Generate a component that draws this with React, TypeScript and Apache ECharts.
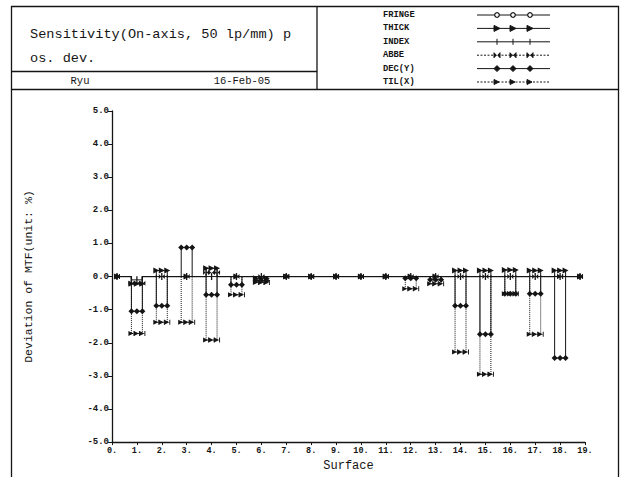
import React, { useEffect, useRef } from "react";
import * as echarts from "echarts";

const SURFACES = [0, 1, 2, 3, 4, 5, 6, 7, 8, 9, 10, 11, 12, 13, 14, 15, 16, 17, 18, 19];
const SERIES_NAMES = ["FRINGE", "THICK", "INDEX", "ABBE", "DEC(Y)", "TIL(X)"];
const FRINGE = [0, -0.15, 0.15, 0, 0.35, 0, 0, 0, 0, 0, 0, 0, 0, 0, 0.15, 0.15, 0.15, 0.15, 0.15, 0];
const THICK = [0, -0.22, 0.18, 0, 0.25, 0, -0.05, 0, 0, 0, 0, 0, 0, 0, 0.18, 0.18, 0.2, 0.18, 0.18, 0];
const INDEX = [0, -0.1, 0, 0, 0, 0, 0, 0, 0, 0, 0, 0, 0, 0, 0, 0, 0, 0, 0, 0];
const ABBE = [0, -0.2, 0, 0, 0.12, 0, 0, 0, 0, 0, 0, 0, 0, 0, 0, 0, 0, 0, 0, 0];
const DEC_Y = [0, -1.05, -0.88, 0.88, -0.55, -0.25, -0.12, 0, 0, 0, 0, 0, -0.05, -0.1, -0.88, -1.74, -0.52, -0.52, -2.46, 0];
const TIL_X = [0, -1.72, -1.38, -1.38, -1.92, -0.55, -0.18, 0, 0, 0, 0, 0, -0.37, -0.22, -2.28, -2.95, -0.52, -1.74, 0, 0];
const SERIES_VALUES = [FRINGE, THICK, INDEX, ABBE, DEC_Y, TIL_X];
const Y_MIN = -5;
const Y_MAX = 5;
const X_MIN = 0;
const X_MAX = 19;

const FONT = '"Liberation Mono", "DejaVu Sans Mono", monospace';
const INK = "#151515";
const HALF = 0.22;

const SYMBOLS: any[] = [
  { symbol: "emptyCircle", symbolSize: 5, symbolRotate: 0 },
  { symbol: "triangle", symbolSize: 6, symbolRotate: -90 },
  { symbol: "rect", symbolSize: [1.3, 7], symbolRotate: 0 },
  { symbol: "path://M0,0L4,5L0,10ZM10,0L6,5L10,10Z", symbolSize: [6, 5], symbolRotate: 0 },
  { symbol: "diamond", symbolSize: 6, symbolRotate: 0 },
  { symbol: "path://M0,0L8,5L0,10ZM8,0L9.5,0L9.5,10L8,10Z", symbolSize: [6, 5], symbolRotate: 0 },
];
const LINE_TYPES: any[] = ["solid", "solid", "solid", "dotted", "solid", "dotted"];

function buildData(values: number[]) {
  const out: any[] = [];
  SURFACES.forEach((s, i) => {
    const v = values[i];
    if (v === 0) {
      const x = Math.min(Math.max(s, X_MIN + HALF - 0.02), X_MAX - HALF + 0.02);
      out.push([x, 0]);
    } else {
      out.push({ value: [s - HALF, 0], symbol: "none" });
      out.push([s - HALF, v]);
      out.push([s, v]);
      out.push([s + HALF, v]);
      out.push({ value: [s + HALF, 0], symbol: "none" });
    }
  });
  return out;
}

function legendGlyph(k: number, cx: number, cy: number): any {
  const st = { fill: INK, stroke: INK, lineWidth: 1 };
  switch (k) {
    case 0:
      return { type: "circle", shape: { cx, cy, r: 2.3 }, style: { fill: "#fff", stroke: INK, lineWidth: 1.2 } };
    case 1:
      return { type: "polygon", shape: { points: [[cx - 3, cy - 3], [cx + 3, cy], [cx - 3, cy + 3]] }, style: st };
    case 2:
      return { type: "line", shape: { x1: cx, y1: cy - 3, x2: cx, y2: cy + 3 }, style: { stroke: INK, lineWidth: 1 } };
    case 3:
      return {
        type: "group",
        children: [
          { type: "polygon", shape: { points: [[cx - 3, cy - 2.5], [cx - 0.8, cy], [cx - 3, cy + 2.5]] }, style: st },
          { type: "polygon", shape: { points: [[cx + 3, cy - 2.5], [cx + 0.8, cy], [cx + 3, cy + 2.5]] }, style: st },
        ],
      };
    case 4:
      return { type: "polygon", shape: { points: [[cx, cy - 3], [cx + 3, cy], [cx, cy + 3], [cx - 3, cy]] }, style: st };
    default:
      return { type: "polygon", shape: { points: [[cx - 3, cy - 2.5], [cx + 2, cy], [cx - 3, cy + 2.5]] }, style: st };
  }
}

export default function App() {
  const ref = useRef<HTMLDivElement>(null);
  useEffect(() => {
    if (!ref.current) return;
    const chart = echarts.init(ref.current, undefined, { renderer: "svg" });

    const frame = { stroke: INK, lineWidth: 1.3 };
    const graphic: any[] = [
      { type: "rect", shape: { x: 11.5, y: 6.5, width: 607, height: 83 }, style: { fill: "none", ...frame } },
      { type: "line", shape: { x1: 317, y1: 6.5, x2: 317, y2: 89.5 }, style: frame },
      { type: "line", shape: { x1: 11.5, y1: 71.5, x2: 317, y2: 71.5 }, style: frame },
      { type: "line", shape: { x1: 11.5, y1: 89.5, x2: 11.5, y2: 477 }, style: frame },
      { type: "line", shape: { x1: 618.5, y1: 89.5, x2: 618.5, y2: 477 }, style: frame },
      {
        type: "text", x: 30, y: 34,
        style: { text: "Sensitivity(On-axis, 50 lp/mm) p", font: `13.6px ${FONT}`, fill: INK, textVerticalAlign: "middle" },
      },
      {
        type: "text", x: 30, y: 58,
        style: { text: "os. dev.", font: `13.6px ${FONT}`, fill: INK, textVerticalAlign: "middle" },
      },
      {
        type: "text", x: 80, y: 81,
        style: { text: "Ryu", font: `10.5px ${FONT}`, fill: INK, textAlign: "center", textVerticalAlign: "middle" },
      },
      {
        type: "text", x: 242, y: 81,
        style: { text: "16-Feb-05", font: `10.5px ${FONT}`, fill: INK, textAlign: "center", textVerticalAlign: "middle" },
      },
    ];
    SERIES_NAMES.forEach((name, k) => {
      const cy = 15 + k * 13.4;
      graphic.push({
        type: "text", x: 383, y: cy,
        style: { text: name, font: `bold 8.8px ${FONT}`, fill: INK, textVerticalAlign: "middle" },
      });
      graphic.push({
        type: "line", shape: { x1: 477, y1: cy, x2: 550, y2: cy },
        style: { stroke: INK, lineWidth: 1, lineDash: LINE_TYPES[k] === "dotted" ? [2, 1.5] : null },
      });
      [497, 513, 530].forEach((cx) => graphic.push(legendGlyph(k, cx, cy)));
    });

    const series = SERIES_NAMES.map((name, k) => ({
      name,
      type: "line",
      data: buildData(SERIES_VALUES[k]),
      symbol: SYMBOLS[k].symbol,
      symbolSize: SYMBOLS[k].symbolSize,
      symbolRotate: SYMBOLS[k].symbolRotate,
      showAllSymbol: true,
      lineStyle: { color: INK, width: 1, type: LINE_TYPES[k] },
      itemStyle: { color: k === 0 ? "#fff" : INK, borderColor: INK, borderWidth: k === 0 ? 1.2 : 0 },
      emphasis: { disabled: true },
      z: 2 + k,
    }));

    chart.setOption({
      animation: false,
      backgroundColor: "#fff",
      textStyle: { fontFamily: FONT },
      grid: { left: 112, right: 36, top: 111, bottom: 32, containLabel: false },
      xAxis: {
        type: "value",
        min: X_MIN,
        max: X_MAX,
        interval: 1,
        name: "Surface",
        nameLocation: "middle",
        nameGap: 14,
        nameTextStyle: { fontFamily: FONT, fontSize: 12, color: INK },
        axisLine: { show: true, onZero: false, lineStyle: { color: INK, width: 1.3 } },
        axisTick: { show: true, inside: false, length: 3, lineStyle: { color: INK } },
        axisLabel: {
          formatter: (v: number) => `${v}.`,
          fontFamily: FONT, fontSize: 8.5, fontWeight: "bold", color: INK, margin: 4,
        },
        splitLine: { show: false },
      },
      yAxis: {
        type: "value",
        min: Y_MIN,
        max: Y_MAX,
        interval: 1,
        name: "Deviation of MTF(unit: %)",
        nameLocation: "middle",
        nameGap: 78,
        nameTextStyle: { fontFamily: FONT, fontSize: 11.5, color: INK },
        axisLine: { show: true, onZero: false, lineStyle: { color: INK, width: 1.3 } },
        axisTick: { show: true, inside: false, length: 4, lineStyle: { color: INK } },
        axisLabel: {
          formatter: (v: number) => v.toFixed(1),
          fontFamily: FONT, fontSize: 9, fontWeight: "bold", color: INK, margin: 3,
        },
        splitLine: { show: false },
      },
      graphic,
      series,
    });
    return () => chart.dispose();
  }, []);
  return (
    <div
      ref={ref}
      style={{ position: "fixed", left: 0, top: 0, width: 621, height: 477, background: "#fff" }}
    />
  );
}
